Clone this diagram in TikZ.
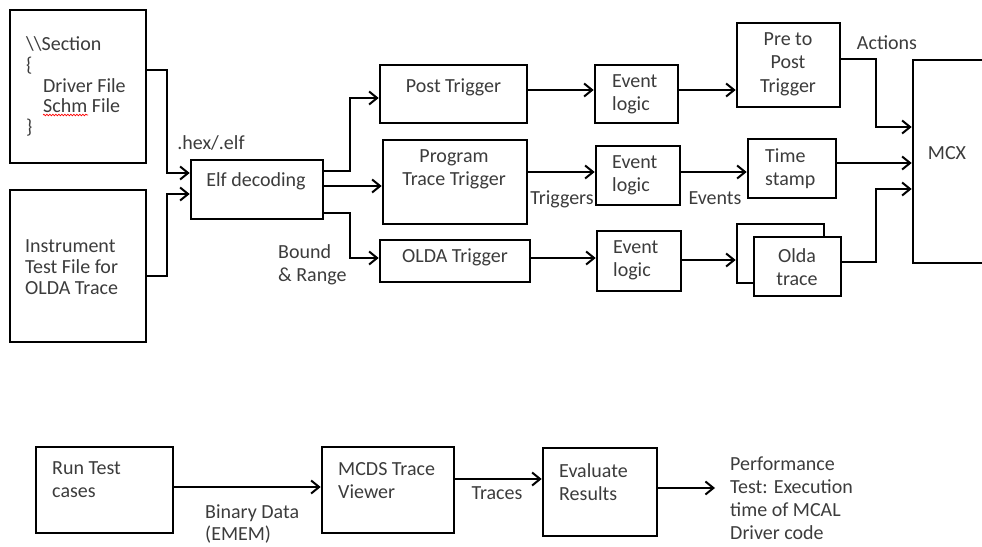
\documentclass[tikz,border=0pt]{standalone}
\usepackage{fontspec}
\setmainfont{Carlito}
\usetikzlibrary{arrows.meta,decorations.pathmorphing}
\definecolor{ink}{HTML}{3C3C3C}
\begin{document}
\begin{tikzpicture}[x=1pt,y=-1pt,
  box/.style={draw, line width=2.6pt, fill=white, inner sep=0pt},
  txt/.style={text=ink, font=\fontsize{20}{23}\selectfont, inner sep=0pt},
  arr/.style={line width=2pt, -{Straight Barb[length=8pt,width=13pt,line width=2pt]}},
  wire/.style={line width=2pt}]
\useasboundingbox (0,0) rectangle (982,546);
\clip (0,0) rectangle (982,546);

% ---- upper flow: boxes ----
\node[box, minimum width=136, minimum height=153] (sec)  at (78,86.5) {};
\node[box, minimum width=136, minimum height=152] (inst) at (78,266) {};
\node[box, minimum width=132, minimum height=59]  (elf)  at (257,189.5) {};
\node[box, minimum width=147, minimum height=58]  (post) at (453.5,94) {};
\node[box, minimum width=144, minimum height=84]  (prog) at (455,182) {};
\node[box, minimum width=150, minimum height=42]  (olda) at (455,261) {};
\node[box, minimum width=83,  minimum height=58]  (ev1)  at (636.5,94) {};
\node[box, minimum width=84,  minimum height=59]  (ev2)  at (638,175.5) {};
\node[box, minimum width=84,  minimum height=60]  (ev3)  at (639,261) {};
\node[box, minimum width=103, minimum height=84]  (pre)  at (788.5,65) {};
\node[box, minimum width=88,  minimum height=59]  (ts)   at (792,168.5) {};
\node[box, minimum width=87,  minimum height=59]  (oldaB) at (780.5,253.5) {};
\node[box, minimum width=87,  minimum height=59]  (oldaF) at (797.5,266.5) {};
\node[box, minimum width=87,  minimum height=203] (mcx)  at (956.5,161.5) {};

% ---- lower flow: boxes ----
\node[box, minimum width=137, minimum height=86] (run)  at (104.5,490) {};
\node[box, minimum width=132, minimum height=86] (mcds) at (388,490) {};
\node[box, minimum width=114, minimum height=88] (eval) at (600,492) {};
\coordinate (perfin) at (715,488);

% ---- connectors ----
\draw[arr] (sec.east |- 0,70) -| (167,173) -- (elf.west |- 0,173);
\draw[arr] (inst.east |- 0,276) -| (167,194) -- (elf.west |- 0,194);
\draw[arr] (elf.east |- 0,171) -| (350,98) -- (post.west |- 0,98);
\draw[arr] (elf.east |- 0,186) -- (prog.west |- 0,186);
\draw[arr] (elf.east |- 0,213) -| (350,258) -- (olda.west |- 0,258);
\draw[arr] (post.east |- 0,90) -- (ev1.west |- 0,90);
\draw[arr] (prog.east |- 0,172) -- (ev2.west |- 0,172);
\draw[arr] (olda.east |- 0,258) -- (ev3.west |- 0,258);
\draw[arr] (ev1.east |- 0,90) -- (pre.west |- 0,90);
\draw[arr] (ev2.east |- 0,172) -- (ts.west |- 0,172);
\draw[arr] (ev3.east |- 0,260) -- (oldaB.west |- 0,260);
\draw[arr] (pre.east |- 0,59) -| (876,127) -- (mcx.west |- 0,127);
\draw[arr] (ts.east |- 0,163) -- (mcx.west |- 0,163);
\draw[arr] (oldaF.east |- 0,262) -| (876,189) -- (mcx.west |- 0,189);
\draw[arr] (run.east |- 0,487) -- (mcds.west |- 0,487);
\draw[arr] (mcds.east |- 0,479) -- (eval.west |- 0,479);
\draw[arr] (eval.east |- 0,488) -- (perfin);

% ---- texts ----
\node[txt, anchor=west, align=left, font=\fontsize{20}{20.7}\selectfont] (secT) at (26,86.5)
  {\textbackslash\textbackslash Section\\\{\\\hspace*{17pt}Driver File\\\hspace*{17pt}Schm File\\\}};
\draw[red, line width=0.7pt, decorate, decoration={snake, amplitude=0.8pt, segment length=3pt}] (43,115) -- (88,115);
\node[txt, anchor=west, align=left, font=\fontsize{20}{21}\selectfont] (instT) at (25,267) {Instrument\\Test File for\\OLDA Trace};
\node[txt] (hexT) at (211,143) {.hex/.elf};
\node[txt] (elfT) at (256,181) {Elf decoding};
\node[txt, anchor=west, align=left] (brT) at (278,264.5) {Bound\\\& Range};
\node[txt] (postT) at (453.5,87) {Post Trigger};
\node[txt, align=center] (progT) at (454,169.5) {Program\\Trace Trigger};
\node[txt] (oldaT) at (455,257) {OLDA Trigger};
\node[txt, anchor=west, align=left] (ev1T) at (612,94) {Event\\logic};
\node[txt, anchor=west, align=left] (ev2T) at (612,175.5) {Event\\logic};
\node[txt, anchor=west, align=left] (ev3T) at (613,260.5) {Event\\logic};
\node[txt] (trigT) at (562,199) {Triggers};
\node[txt, align=center, font=\fontsize{20}{23.5}\selectfont] (preT) at (788,64) {Pre to\\Post\\Trigger};
\node[txt] (actT) at (887,43) {Actions};
\node[txt, anchor=west, align=left] (tsT) at (765,168.5) {Time\\stamp};
\node[txt] (evtT) at (715,198) {Events};
\node[txt, align=center] (oldT) at (797,267.5) {Olda\\trace};
\node[txt] (mcxT) at (947,153) {MCX};
\node[txt, anchor=west, align=left] (runT) at (52,480) {Run Test\\cases};
\node[txt, anchor=west, align=left] (mcdsT) at (338,481) {MCDS Trace\\Viewer};
\node[txt, anchor=west, align=left, font=\fontsize{20}{22}\selectfont] (binT) at (205,524) {Binary Data\\(EMEM)};
\node[txt] (trT) at (497,493) {Traces};
\node[txt, anchor=west, align=left] (evalT) at (559,482) {Evaluate\\Results};
\node[txt, anchor=west, align=left] (perfT) at (730,498) {Performance\\Test: Execution\\time of MCAL\\Driver code};
\end{tikzpicture}
\end{document}
